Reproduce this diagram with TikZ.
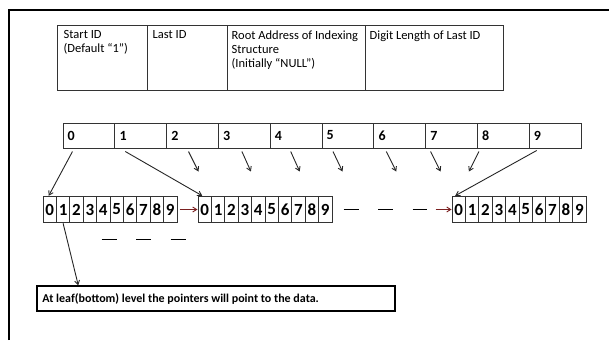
\documentclass[tikz,border=0pt]{standalone}
\usepackage{fontspec}
\setmainfont{Carlito}
\usetikzlibrary{arrows.meta,positioning}
\definecolor{linkred}{RGB}{122,32,32}
\tikzset{
  hdbox/.style={draw=black!80, line width=1pt, inner sep=0, minimum height=65pt},
  hdtext/.style={anchor=north west, inner sep=0, align=left, font=\fontsize{12.5}{14}\selectfont},
  cellbox/.style={draw=black!80, line width=1pt, inner sep=0, minimum width=51.8pt, minimum height=25pt},
  celltext/.style={anchor=west, inner sep=0, font=\bfseries\fontsize{14}{14}\selectfont},
  digbox/.style={draw=black!80, line width=1pt, inner sep=0, minimum width=13.4pt, minimum height=26.5pt, font=\bfseries\fontsize{17}{17}\selectfont},
  ptr/.style={draw=black!85, line width=0.9pt, -{Straight Barb[length=4pt,width=5pt]}},
  link/.style={ptr, draw=linkred},
  gap/.style={line width=1.4pt, dash pattern=on 15pt off 19.5pt},
}
\begin{document}
\begin{tikzpicture}[x=1pt,y=-1pt]
  \useasboundingbox (0,0) rectangle (609,340);
  % Frame, open at the right and bottom:
  \draw[line width=1.8pt] (9,340) -- (9,10) -- (609,10);

  % Header record:
  \node[hdbox, minimum width=90pt](Head1) at (102,57.5){};
  \node[hdbox, minimum width=80pt](Head2) at (187,57.5){};
  \node[hdbox, minimum width=138pt](Head3) at (296,57.5){};
  \node[hdbox, minimum width=138pt](Head4) at (434,57.5){};
  \node[hdtext] at ([shift={(7,6)}]Head1.north west){Start ID\\(Default “1”)};
  \node[hdtext] at ([shift={(6,6)}]Head2.north west){Last ID};
  \node[hdtext] at ([shift={(5,6)}]Head3.north west){Root Address of Indexing\\Structure\\(Initially “NULL”)};
  \node[hdtext] at ([shift={(5,6)}]Head4.north west){Digit Length of Last ID};

  % Root node, ten pointers:
  \foreach \i in {0,...,9}
    \node[cellbox](m\i) at ({88.9+51.8*\i},135.5){} node[celltext] at ([xshift=5pt]m\i.west){\i};

  % Second level nodes:
  \foreach \arr/\x in {A/43, B/198, C/452}
    \foreach \i in {0,...,9}
      \node[digbox](\arr\i) at ({\x+6.7+13.4*\i},209.5){\i};

  % Pointers from the root:
  \draw[ptr] ([shift={(10,3)}]m0.south west) -- ([xshift=-1pt]A0.north);
  \draw[ptr] ([shift={(11,3)}]m1.south west) -- ([xshift=-2.5pt]B0.north);
  \draw[ptr] ([shift={(8,2)}]m9.south west) -- ([xshift=-3.5pt]C0.north);
  \foreach \i/\dx/\ex in {2/22.4/10, 3/24/9, 4/21/9, 5/11.5/9.5, 6/13/10, 7/5.5/10, 8/2/-10}{
    \coordinate (t\i) at ([shift={({\dx+\ex},23)}]m\i.south west);
    \draw[ptr] ([shift={(\dx,3)}]m\i.south west) -- (t\i);
  }

  % Links between sibling nodes:
  \draw[link, shorten <=2pt] (A9.east) -- (B0.west);
  \draw[gap] ([xshift=11pt]B9.east) -- ([xshift=-25pt]C0.west);
  \draw[link] ([xshift=-16pt]C0.west) -- (C0.west);
  \draw[gap] ([shift={(-76,16)}]A9.south east) -- ([shift={(8,16)}]A9.south east);

  % Leaf note:
  \node[draw, line width=1.5pt, inner sep=0, minimum width=358pt, minimum height=25pt](Leaf) at (216,298.5){};
  \node[anchor=west, inner sep=0, font=\bfseries\fontsize{12}{12}\selectfont] at ([xshift=6pt]Leaf.west){At leaf(bottom) level the pointers will point to the data.};
  \draw[ptr] (A1.south) -- ([xshift=42pt]Leaf.north west);
\end{tikzpicture}
\end{document}
